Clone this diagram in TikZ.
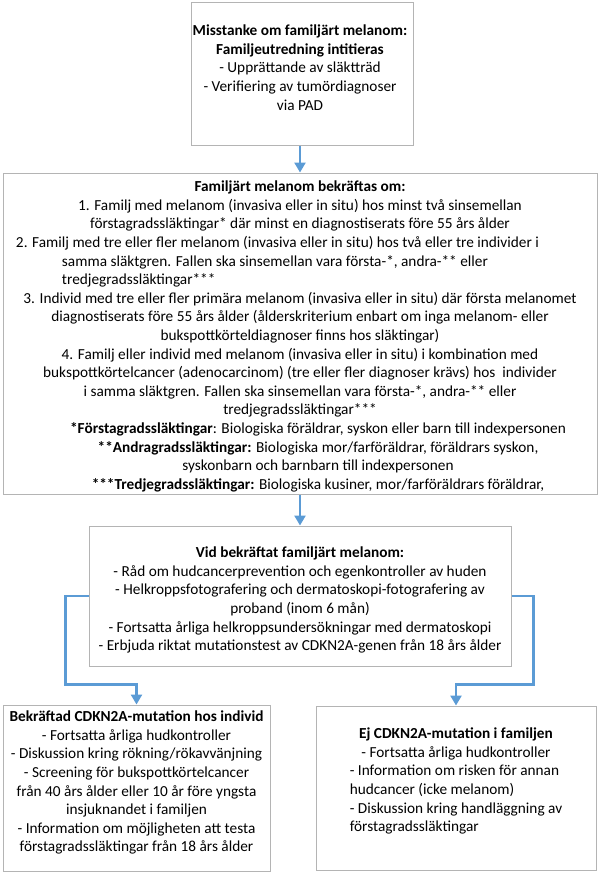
\documentclass[tikz,border=0pt]{standalone}
\usepackage{fontspec}
\setmainfont{Carlito}
\usetikzlibrary{positioning,calc,arrows.meta}
\definecolor{flowblue}{HTML}{5B9BD5}
\definecolor{boxgray}{HTML}{B4B4B4}

\begin{document}
\begin{tikzpicture}[x=1pt, y=1pt,
	box/.style={draw=boxgray, fill=white, line width=1pt, inner sep=0pt},
	txt/.style={align=center, inner sep=0pt, font=\fontsize{15.3}{18.6}\selectfont},
	flow/.style={draw=flowblue, line width=2.6pt, -{Triangle[width=11pt,length=10pt]}}]
	\useasboundingbox (0,0) rectangle (601,-875);

	\node[box, minimum width=222pt, minimum height=142pt] (suspect) at (302,-74) {};
	\node[box, minimum width=594pt, minimum height=321pt] (confirm) at (300,-333.5) {};
	\node[box, minimum width=422pt, minimum height=140pt] (follow) at (300,-596) {};
	\node[box, minimum width=267pt, minimum height=166pt] (mutpos) at (136.5,-788) {};
	\node[box, minimum width=280pt, minimum height=164pt] (mutneg) at (456,-788) {};

	\draw[flow] (suspect.south -| confirm.north) -- (confirm.north);
	\draw[flow] (confirm.south) -- (follow.north);
	\draw[flow] (follow.west) -- ++(-23,0) |- ([yshift=20pt]mutpos.north) -- (mutpos.north);
	\draw[flow] (follow.east) -- ++(22,0) |- ([yshift=21pt]mutneg.north) -- (mutneg.north);

	\node[txt, below=20pt of suspect.north, xshift=-2pt] (suspecttext) {\strut\textbf{Misstanke om familjärt melanom:}\\
		\textbf{Familjeutredning intitieras}\\
		- Upprättande av släktträd\\
		- Verifiering av tumördiagnoser\\
		via PAD};
	\node[txt, below=6pt of confirm.north] (confirmtext) {\strut\textbf{Familjärt melanom bekräftas om:}\\
		1. Familj med melanom (invasiva eller in situ) hos minst två sinsemellan\\
		förstagradssläktingar* där minst en diagnostiserats före 55 års ålder\\
		\makebox[568pt][l]{2. Familj med tre eller fler melanom (invasiva eller in situ) hos två eller tre individer i}\\
		\makebox[568pt][l]{\hspace*{46pt}samma släktgren. Fallen ska sinsemellan vara första-*, andra-** eller}\\
		\makebox[568pt][l]{\hspace*{46pt}tredjegradssläktingar***}\\
		3. Individ med tre eller fler primära melanom (invasiva eller in situ) där första melanomet\\
		diagnostiserats före 55 års ålder (ålderskriterium enbart om inga melanom- eller\\
		bukspottkörteldiagnoser finns hos släktingar)\\
		4. Familj eller individ med melanom (invasiva eller in situ) i kombination med\\
		bukspottkörtelcancer (adenocarcinom) (tre eller fler diagnoser krävs) hos~ individer\\
		i samma släktgren. Fallen ska sinsemellan vara första-*, andra-** eller\\
		tredjegradssläktingar***\\
		\hspace*{36pt}\textbf{*Förstagradssläktingar}: Biologiska föräldrar, syskon eller barn till indexpersonen\\
		\hspace*{36pt}\textbf{**Andragradssläktingar:} Biologiska mor/farföräldrar, föräldrars syskon,\\
		\hspace*{36pt}syskonbarn och barnbarn till indexpersonen\\
		\hspace*{36pt}\textbf{***Tredjegradssläktingar:} Biologiska kusiner, mor/farföräldrars föräldrar,};
	\node[txt, below=19pt of follow.north] (followtext) {\strut\textbf{Vid bekräftat familjärt melanom:}\\
		- Råd om hudcancerprevention och egenkontroller av huden\\
		- Helkroppsfotografering och dermatoskopi-fotografering av\\
		proband (inom 6 mån)\\
		- Fortsatta årliga helkroppsundersökningar med dermatoskopi\\
		- Erbjuda riktat mutationstest av CDKN2A-genen från 18 års ålder};
	\node[txt, below=4pt of mutpos.north] (mutpostext) {\strut\textbf{Bekräftad CDKN2A-mutation hos individ}\\
		- Fortsatta årliga hudkontroller\\
		- Diskussion kring rökning/rökavvänjning\\
		- Screening för bukspottkörtelcancer\\
		från 40 års ålder eller 10 år före yngsta\\
		insjuknandet i familjen\\
		- Information om möjligheten att testa\\
		förstagradssläktingar från 18 års ålder};
	\node[txt, below=20pt of mutneg.north] (mutnegtext) {\strut\textbf{Ej CDKN2A-mutation i familjen}\\
		- Fortsatta årliga hudkontroller\\
		\begin{tabular}[t]{@{}l@{}}
			- Information om risken för annan\\
			hudcancer (icke melanom)\\
			- Diskussion kring handläggning av\\
			förstagradssläktingar
		\end{tabular}};
\end{tikzpicture}
\end{document}
